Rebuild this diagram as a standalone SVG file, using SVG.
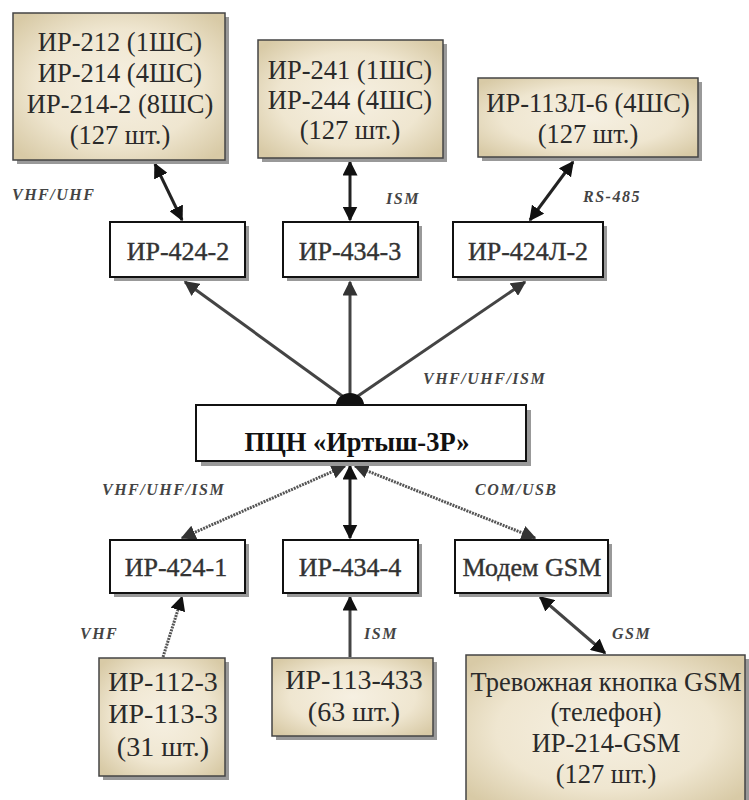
<svg xmlns="http://www.w3.org/2000/svg" width="749" height="800" viewBox="0 0 749 800">
<defs>
<radialGradient id="tan" cx="50%" cy="50%" r="65%">
<stop offset="0" stop-color="#f6f0e2"/>
<stop offset="0.6" stop-color="#efe6d0"/>
<stop offset="1" stop-color="#d8caa6"/>
</radialGradient>
<marker id="ah" viewBox="0 0 10 10" refX="9" refY="5" markerWidth="5" markerHeight="5" orient="auto-start-reverse" markerUnits="strokeWidth">
<path d="M0,0 L10,5 L0,10 z" fill="#111"/>
</marker>
<marker id="ahg" viewBox="0 0 10 10" refX="9" refY="5" markerWidth="5" markerHeight="5" orient="auto-start-reverse" markerUnits="strokeWidth">
<path d="M0,0 L10,5 L0,10 z" fill="#333"/>
</marker>
</defs>
<style>
.tan{fill:url(#tan);stroke:#444;stroke-width:1.5}
.wht{fill:#fff;stroke:#111;stroke-width:2}
.sh{fill:#999}
.t{font-family:"Liberation Serif","DejaVu Serif",serif;font-size:26.5px;fill:#2a2a2a;text-anchor:middle}
.t2{font-family:"Liberation Serif","DejaVu Serif",serif;font-size:28px;fill:#2a2a2a;text-anchor:middle}
.m{font-family:"Liberation Serif","DejaVu Serif",serif;font-size:26px;fill:#333;text-anchor:middle;stroke:#333;stroke-width:0.4}
.b{font-family:"Liberation Serif","DejaVu Serif",serif;font-size:26.5px;font-weight:bold;fill:#111;text-anchor:middle}
.l{font-family:"Liberation Serif","DejaVu Serif",serif;font-size:16px;font-weight:bold;font-style:italic;fill:#444;letter-spacing:1.5px}
.c{fill:none;stroke:#222;stroke-width:3}
.cg{fill:none;stroke:#444;stroke-width:3}
.cd{fill:none;stroke:#555;stroke-width:3;stroke-dasharray:2 1}
</style>
<rect width="749" height="800" fill="#fff"/>

<g id="connectors">
<line class="c" x1="155" y1="164" x2="182" y2="220" marker-start="url(#ah)" marker-end="url(#ah)"/>
<line class="c" x1="350" y1="162" x2="350" y2="220" marker-start="url(#ah)" marker-end="url(#ah)"/>
<line class="c" x1="573" y1="162" x2="530" y2="220" marker-start="url(#ah)" marker-end="url(#ah)"/>
<line class="cg" x1="345" y1="398" x2="185" y2="282" marker-end="url(#ahg)"/>
<line class="cg" x1="350" y1="398" x2="350" y2="282" marker-end="url(#ahg)"/>
<line class="cg" x1="355" y1="398" x2="525" y2="282" marker-end="url(#ahg)"/>
<path d="M336,405 A14,12 0 0 1 364,405 Z" fill="#111"/>
<line class="cd" x1="345" y1="466" x2="182" y2="538" marker-start="url(#ahg)" marker-end="url(#ahg)"/>
<line class="c" x1="350" y1="466" x2="350" y2="538" marker-start="url(#ah)" marker-end="url(#ah)"/>
<line class="cd" x1="355" y1="466" x2="535" y2="538" marker-start="url(#ahg)" marker-end="url(#ahg)"/>
<line class="cd" x1="163" y1="657" x2="182" y2="597" marker-end="url(#ah)"/>
<line class="cg" x1="350" y1="657" x2="350" y2="597" marker-end="url(#ah)"/>
<line class="cg" x1="605" y1="653" x2="540" y2="597" marker-start="url(#ah)" marker-end="url(#ah)"/>
</g>

<g id="labels">
<text class="l" x="12" y="200">VHF/UHF</text>
<text class="l" x="386" y="204">ISM</text>
<text class="l" x="583" y="202">RS-485</text>
<text class="l" x="423" y="384">VHF/UHF/ISM</text>
<text class="l" x="102" y="495">VHF/UHF/ISM</text>
<text class="l" x="475" y="495">COM/USB</text>
<text class="l" x="80" y="639">VHF</text>
<text class="l" x="364" y="639">ISM</text>
<text class="l" x="612" y="639">GSM</text>
</g>

<g id="n-top-left">
<rect class="sh" x="17" y="17" width="212" height="147"/>
<rect class="tan" x="13" y="13" width="212" height="147"/>
<text class="t" x="120" y="51">ИР-212 (1ШС)</text>
<text class="t" x="120" y="82">ИР-214 (4ШС)</text>
<text class="t" x="120" y="113">ИР-214-2 (8ШС)</text>
<text class="t" x="120" y="144">(127 шт.)</text>
</g>

<g id="n-top-mid">
<rect class="sh" x="262" y="44" width="185" height="118"/>
<rect class="tan" x="258" y="40" width="185" height="118"/>
<text class="t" x="350" y="79">ИР-241 (1ШС)</text>
<text class="t" x="350" y="109">ИР-244 (4ШС)</text>
<text class="t" x="350" y="139">(127 шт.)</text>
</g>

<g id="n-top-right">
<rect class="sh" x="482" y="82" width="220" height="79"/>
<rect class="tan" x="478" y="78" width="220" height="79"/>
<text class="t" x="588" y="112">ИР-113Л-6 (4ШС)</text>
<text class="t" x="588" y="143">(127 шт.)</text>
</g>

<g id="n-424-2">
<rect class="sh" x="114" y="226" width="135" height="55"/>
<rect class="wht" x="110" y="222" width="135" height="55"/>
<text class="m" x="178" y="260">ИР-424-2</text>
</g>
<g id="n-434-3">
<rect class="sh" x="287" y="226" width="135" height="55"/>
<rect class="wht" x="283" y="222" width="135" height="55"/>
<text class="m" x="350" y="260">ИР-434-3</text>
</g>
<g id="n-424L-2">
<rect class="sh" x="457" y="226" width="150" height="55"/>
<rect class="wht" x="453" y="222" width="150" height="55"/>
<text class="m" x="528" y="260">ИР-424Л-2</text>
</g>

<g id="n-center">
<rect class="sh" x="201" y="410" width="330" height="56"/>
<rect class="wht" x="196" y="405" width="330" height="56"/>
<text class="b" x="357" y="451">ПЦН «Иртыш-3Р»</text>
</g>

<g id="n-424-1">
<rect class="sh" x="114" y="544" width="135" height="53"/>
<rect class="wht" x="110" y="540" width="135" height="53"/>
<text class="m" x="176" y="576">ИР-424-1</text>
</g>
<g id="n-434-4">
<rect class="sh" x="287" y="544" width="135" height="53"/>
<rect class="wht" x="283" y="540" width="135" height="53"/>
<text class="m" x="350" y="576">ИР-434-4</text>
</g>
<g id="n-modem">
<rect class="sh" x="459" y="544" width="153" height="53"/>
<rect class="wht" x="455" y="540" width="153" height="53"/>
<text class="m" x="532" y="576">Модем GSM</text>
</g>

<g id="n-112-3">
<rect class="sh" x="103" y="662" width="126" height="118"/>
<rect class="tan" x="99" y="658" width="126" height="118"/>
<text class="t2" x="163" y="691">ИР-112-3</text>
<text class="t2" x="163" y="723">ИР-113-3</text>
<text class="t2" x="163" y="756">(31 шт.)</text>
</g>
<g id="n-113-433">
<rect class="sh" x="276" y="662" width="161" height="78"/>
<rect class="tan" x="272" y="658" width="161" height="78"/>
<text class="t2" x="354" y="689">ИР-113-433</text>
<text class="t2" x="354" y="721">(63 шт.)</text>
</g>
<g id="n-gsm-button">
<rect class="sh" x="470" y="659" width="283" height="150"/>
<rect class="tan" x="466" y="655" width="279" height="150"/>
<text class="t" x="606" y="691">Тревожная кнопка GSM</text>
<text class="t" x="606" y="721">(телефон)</text>
<text class="t" x="606" y="752">ИР-214-GSM</text>
<text class="t" x="606" y="783">(127 шт.)</text>
</g>
</svg>
